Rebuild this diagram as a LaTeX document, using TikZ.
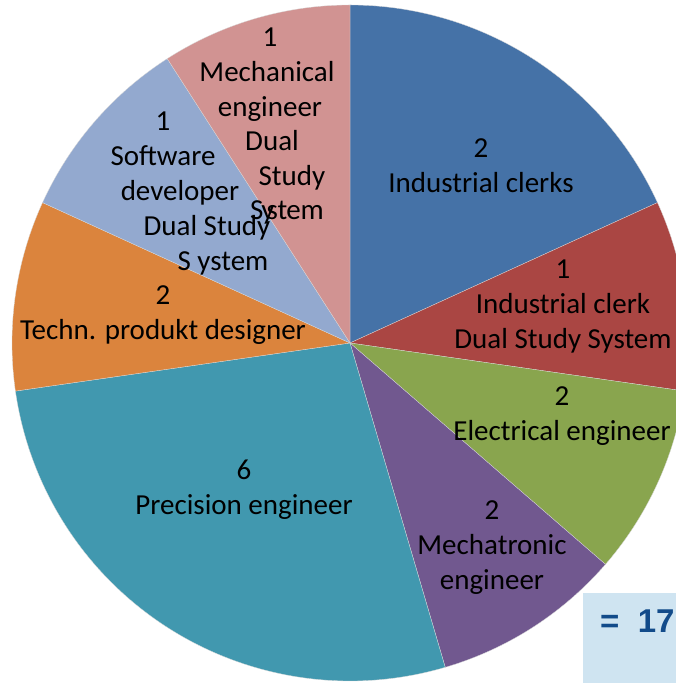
\documentclass[tikz,border=0pt]{standalone}
\usepackage{fontspec}
\setmainfont{Carlito}
\newfontfamily\sumfont{Liberation Sans}
\definecolor{clerkblue}{HTML}{4572A7}
\definecolor{clerkred}{HTML}{AA4643}
\definecolor{elecgreen}{HTML}{89A54E}
\definecolor{mechpurple}{HTML}{71588F}
\definecolor{precteal}{HTML}{4198AF}
\definecolor{technorange}{HTML}{DB843D}
\definecolor{softblue}{HTML}{93A9CF}
\definecolor{mechpink}{HTML}{D19392}
\definecolor{sumbg}{HTML}{CFE4F1}
\definecolor{sumblue}{HTML}{124B8A}
\begin{document}
\begin{tikzpicture}[x=1pt,y=1pt,
  slice/.style={draw=white!70!gray,line width=0.3pt},
  lbl/.style={font=\fontsize{29}{35}\selectfont,align=center,inner sep=0pt},
  line/.style={font=\fontsize{29}{35}\selectfont,inner sep=0pt,anchor=base}]

\useasboundingbox (0,0) rectangle (676,683);
\clip (0,0) rectangle (676,683);
\coordinate (c) at (350,340);

% Slices, clockwise from the top
\filldraw[clerkblue,slice] (c) -- ++(90:338) arc[start angle=90,end angle=24.545,radius=338] -- cycle;
\filldraw[clerkred,slice] (c) -- ++(24.545:338) arc[start angle=24.545,end angle=-8.182,radius=338] -- cycle;
\filldraw[elecgreen,slice] (c) -- ++(-8.182:338) arc[start angle=-8.182,end angle=-40.909,radius=338] -- cycle;
\filldraw[mechpurple,slice] (c) -- ++(-40.909:338) arc[start angle=-40.909,end angle=-73.636,radius=338] -- cycle;
\filldraw[precteal,slice] (c) -- ++(-73.636:338) arc[start angle=-73.636,end angle=-171.818,radius=338] -- cycle;
\filldraw[technorange,slice] (c) -- ++(188.182:338) arc[start angle=188.182,end angle=155.455,radius=338] -- cycle;
\filldraw[softblue,slice] (c) -- ++(155.455:338) arc[start angle=155.455,end angle=122.727,radius=338] -- cycle;
\filldraw[mechpink,slice] (c) -- ++(122.727:338) arc[start angle=122.727,end angle=90,radius=338] -- cycle;

% Labels
\node[lbl] (clerks) at (481,517) {2\\Industrial clerks};
\node[lbl] (clerkdual) at (563,376) {1\\Industrial clerk\\Dual Study System};
\node[lbl] (electrical) at (562,267) {2\\Electrical engineer};
\node[lbl] (mechatronic) at (492,135) {2\\Mechatronic\\engineer};
\node[lbl] (precision) at (244,193) {6\\Precision engineer};
\node[lbl] (techn) at (163,368) {2\\Techn. produkt designer};

% Software developer, lines drift to the right
\node[line] (soft1) at (163,552) {1};
\node[line] (soft2) at (163,517) {Software};
\node[line] (soft3) at (180,482) {developer};
\node[line] (soft4) at (207,447) {Dual Study};
\node[line] (soft5) at (223,412) {S ystem};

% Mechanical engineer
\node[line] (mech1) at (270,636) {1};
\node[line] (mech2) at (267,601) {Mechanical};
\node[line] (mech3) at (270,566) {engineer};
\node[line] (mech4) at (272,532) {Dual};
\node[line] (mech5) at (292,497) {Study};
\node[line] (mech6) at (287,463) {S\kern-2pt y\kern-8pt st\kern-1pt em};

% Total
\fill[sumbg] (583,0) rectangle (676,90);
\node[font=\sumfont\bfseries\fontsize{33}{38}\selectfont,text=sumblue,inner sep=0pt,anchor=base west] (total) at (600,50) {=\ \ 17};

\end{tikzpicture}
\end{document}
